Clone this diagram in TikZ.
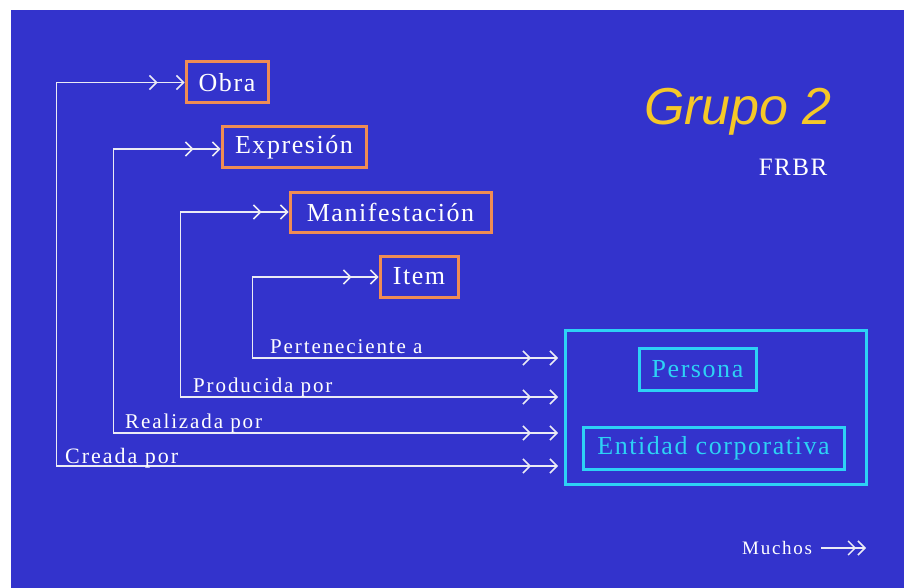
\documentclass[tikz,border=0pt]{standalone}
\usepackage{fontspec}
\setmainfont{Liberation Serif}
\newfontfamily\boxfont[LetterSpace=6]{Liberation Serif}
\newfontfamily\lblfont[LetterSpace=9]{Liberation Serif}
\newfontfamily\titlefont{Liberation Sans}
\usetikzlibrary{arrows.meta,decorations.markings}
\definecolor{slide}{RGB}{51,51,204}
\definecolor{work}{RGB}{240,140,84}
\definecolor{agent}{RGB}{45,210,245}
\definecolor{title}{RGB}{245,200,40}
\definecolor{wire}{RGB}{235,235,245}
\tikzset{
  barb/.tip={Straight Barb[length=7pt,width=14pt,line width=1.5pt]},
  workbox/.style={draw=work, line width=3pt, text=white, font=\boxfont\fontsize{26}{26}\selectfont, inner sep=0pt},
  agentbox/.style={draw=agent, line width=3pt, text=agent, font=\boxfont\fontsize{26}{26}\selectfont, inner sep=0pt},
  rel/.style={text=white, font=\lblfont\fontsize{21}{21}\selectfont, anchor=base west, inner sep=0pt},
  link/.style={draw=wire, line width=1.8pt, barb-barb,
    postaction={decorate},
    decoration={markings,
      mark=at position 27pt with {\arrowreversed{barb}},
      mark=at position -27pt with {\arrow{barb}}}},
}
\begin{document}
\begin{tikzpicture}[x=1pt,y=-1pt]
  \useasboundingbox (0,0) rectangle (904,588);
  \fill[slide] (11,10) rectangle (904,588);

  % work-side entities
  \node[workbox, minimum width=82pt, minimum height=41pt] (obra) at (227,82.5) {Obra};
  \node[workbox, minimum width=144pt, minimum height=41pt] (expr) at (294,147.5) {Expresión};
  \node[workbox, minimum width=201pt, minimum height=40pt] (manif) at (390.5,212) {Manifestación};
  \node[workbox, minimum width=78pt, minimum height=41pt] (item) at (419,276.5) {Item};

  % group 2 entities
  \node[draw=agent, line width=3pt, minimum width=301pt, minimum height=154pt, inner sep=0pt] (grupo) at (715.5,407) {};
  \node[agentbox, minimum width=117pt, minimum height=42pt] (persona) at (697.5,369) {Persona};
  \node[agentbox, minimum width=261pt, minimum height=42pt] (entidad) at (713.5,448) {Entidad corporativa};

  % headings
  \node[text=title, font=\titlefont\itshape\fontsize{52}{52}\selectfont, inner sep=0pt] (head) at (738,112) {Grupo 2};
  \node[text=white, font=\boxfont\fontsize{25}{25}\selectfont, inner sep=0pt] (frbr) at (793,167) {FRBR};

  % connector end points on the group box
  \coordinate (endC) at (558,466);
  \coordinate (endR) at (558,433);
  \coordinate (endP) at (558,397);
  \coordinate (endT) at (558,358);

  % relationships
  \draw[link] (obra.west) -- ++(-128,0) |- (endC);
  \draw[link] (expr.west) ++(0,1.5) -- ++(-107,0) |- (endR);
  \draw[link] (manif.west) -- ++(-108,0) |- (endP);
  \draw[link] (item.west) ++(0,0.5) -- ++(-126,0) |- (endT);

  \node[rel, font=\lblfont\fontsize{22}{22}\selectfont] (lC) at (65,463) {Creada por};
  \node[rel] (lR) at (125,428) {Realizada por};
  \node[rel] (lP) at (193,392) {Producida por};
  \node[rel] (lT) at (270,353) {Perteneciente a};

  % legend
  \node[text=white, font=\lblfont\fontsize{19}{19}\selectfont, inner sep=0pt, anchor=west] (muchos) at (742,548) {Muchos};
  \coordinate (mEnd) at (866,548);
  \draw[draw=wire, line width=1.6pt, -{barb[sep=1pt]barb}] ([xshift=9pt]muchos.east) -- (mEnd);
\end{tikzpicture}
\end{document}
